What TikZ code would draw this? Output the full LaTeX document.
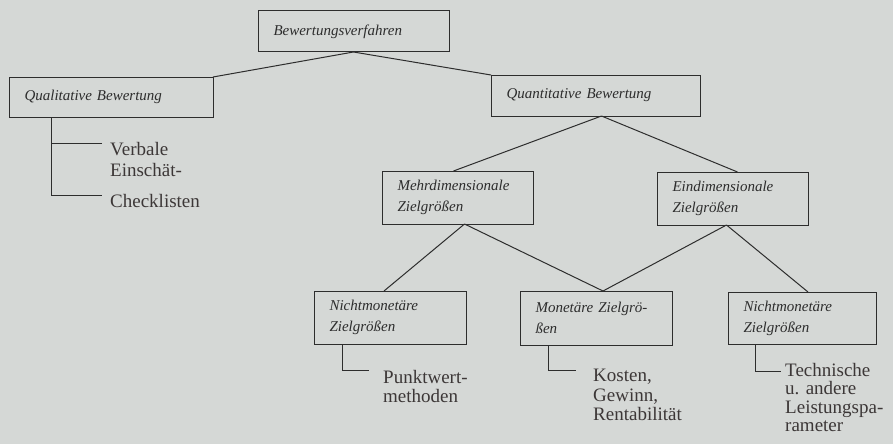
\documentclass[tikz,border=0pt]{standalone}
\usepackage{fontspec}
\setmainfont{Liberation Serif}
\usetikzlibrary{calc}
\definecolor{bg}{RGB}{213,216,214}
\definecolor{ink}{RGB}{45,45,45}
\definecolor{inklight}{RGB}{60,55,55}
\begin{document}
\begin{tikzpicture}[x=1pt,y=-1pt,
  box/.style={draw=ink, line width=1pt, rectangle, inner xsep=15.5pt, inner ysep=0pt, outer sep=0pt, align=left, text=ink, font=\fontsize{15}{21}\selectfont\itshape},
  lbl/.style={inner sep=0pt, anchor=north west, align=left, text=inklight, font=\fontsize{19}{19.5}\selectfont},
  conn/.style={draw=ink, line width=1pt}]
\fill[bg] (0,0) rectangle (893,444);
\useasboundingbox (0,0) rectangle (893,444);

% boxes
\node[box, minimum width=191pt, minimum height=41pt, text width=160pt] (bew) at (353.5,31.5) {Bewertungsverfahren};
\node[box, minimum width=204pt, minimum height=40pt, text width=173pt] (qual) at (111,97) {Qualitative Bewertung};
\node[box, minimum width=209pt, minimum height=41pt, text width=178pt] (quant) at (595.5,95.5) {Quantitative Bewertung};
\node[box, minimum width=151pt, minimum height=53pt, text width=120pt] (mehr) at (457.5,197.5) {Mehrdimensionale\\Zielgrößen};
\node[box, minimum width=151pt, minimum height=53pt, text width=120pt] (ein) at (732.5,198.5) {Eindimensionale\\Zielgrößen};
\node[box, minimum width=152pt, minimum height=53pt, text width=121pt] (nml) at (390,317.5) {Nichtmonetäre\\Zielgrößen};
\node[box, minimum width=152pt, minimum height=54pt, text width=121pt] (mon) at (596,318) {Monetäre Zielgrö-\\ßen};
\node[box, minimum width=148pt, minimum height=52pt, text width=117pt] (nmr) at (802,318) {Nichtmonetäre\\Zielgrößen};

% labels
\node[lbl, font=\fontsize{19}{21}\selectfont] (verb) at (110,142) {Verbale\\Einschät-};
\node[lbl] (check) at (110,194) {Checklisten};
\node[lbl] (punkt) at (383,370) {Punktwert-\\methoden};
\node[lbl] (kost) at (593,369) {Kosten,\\Gewinn,\\Rentabilität};
\node[lbl, font=\fontsize{19}{18.5}\selectfont] (tech) at (785,363) {Technische\\u. andere\\Leistungspa-\\rameter};

% tree connectors
\draw[conn] (bew.south) -- (qual.north east);
\draw[conn] (bew.south) -- (quant.north west);
\draw[conn] ([xshift=6pt]quant.south) -- ([xshift=-4pt]mehr.north);
\draw[conn] ([xshift=6pt]quant.south) -- ([xshift=5pt]ein.north);
\draw[conn] ([xshift=7pt]mehr.south) -- ([xshift=-6pt]nml.north);
\draw[conn] ([xshift=7pt]mehr.south) -- ([xshift=7pt]mon.north);
\draw[conn] ([xshift=-6pt]ein.south) -- ([xshift=7pt]mon.north);
\draw[conn] ([xshift=-6pt]ein.south) -- ([xshift=6pt]nmr.north);

% brackets
\coordinate (qv) at ([xshift=42pt]qual.south west);
\coordinate (qa) at (102,143);
\coordinate (qb) at (102,195);
\coordinate (pe) at (369,370);
\coordinate (ke) at (576,370);
\coordinate (te) at (781,371);
\draw[conn] (qv) |- (qb);
\draw[conn] (qa) -- (qa -| qv);
\draw[conn] ([xshift=28pt]nml.south west) |- (pe);
\draw[conn] ([xshift=28pt]mon.south west) |- (ke);
\draw[conn] ([xshift=27pt]nmr.south west) |- (te);
\end{tikzpicture}
\end{document}
